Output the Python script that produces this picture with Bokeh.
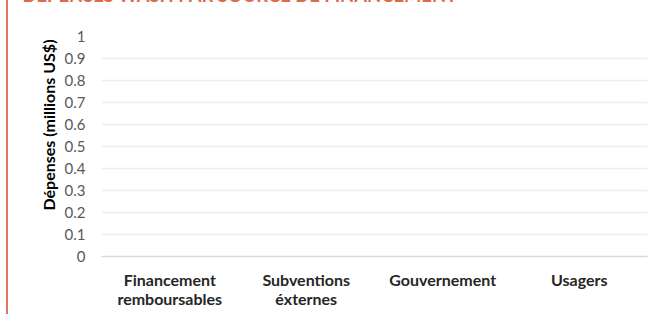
from bokeh.plotting import figure
from bokeh.models import FactorRange, Range1d, FixedTicker, Title
from bokeh.embed import file_html
from bokeh.resources import INLINE

# ---- data ----
categories = ["Financement\nremboursables", "Subventions\néxternes", "Gouvernement", "Usagers"]
values = [0, 0, 0, 0]
y_ticks = [0, 0.1, 0.2, 0.3, 0.4, 0.5, 0.6, 0.7, 0.8, 0.9, 1]
y_tick_labels = ["0", "0.1", "0.2", "0.3", "0.4", "0.5", "0.6", "0.7", "0.8", "0.9", "1"]
title_text = "DÉPENSES WASH PAR SOURCE DE FINANCEMENT"
y_title = "Dépenses (millions US$)"

ORANGE = "#E0694A"
FONT = "Lato"

p = figure(
    x_range=FactorRange(factors=categories, range_padding=0),
    y_range=Range1d(0, 1),
    width=657, height=368,
    output_backend="svg", toolbar_location=None,
    min_border_left=93, min_border_right=18,
    min_border_top=90, min_border_bottom=58,
)
p.styles = {"position": "relative", "top": "-54px", "left": "6px",
            "border-left": "2px solid #E0765A"}
p.outline_line_color = None
p.background_fill_color = "white"
p.border_fill_color = "white"

# chart title, mostly cut off at the top edge (as in the reference)
p.title.text = title_text
p.title.align = "left"
p.title.offset = -79
p.title.standoff = 62
p.title.text_font = FONT
p.title.text_font_style = "bold"
p.title.text_font_size = "18.4px"
p.title.text_color = ORANGE

p.vbar(x=categories, top=values, width=0.6, fill_color=ORANGE, line_color=None)

# y axis
p.yaxis.ticker = FixedTicker(ticks=y_ticks)
p.yaxis.major_label_overrides = {t: l for t, l in zip(y_ticks, y_tick_labels)}
p.yaxis.axis_line_color = None
p.yaxis.major_tick_line_color = None
p.yaxis.minor_tick_line_color = None
p.yaxis.major_tick_out = 0
p.yaxis.minor_tick_out = 0
p.yaxis.major_label_standoff = 16
p.yaxis.major_label_text_font = FONT
p.yaxis.major_label_text_font_size = "15px"
p.yaxis.major_label_text_color = "#595959"

# x axis
p.xaxis.axis_line_color = "#D9D9D9"
p.xaxis.axis_line_width = 1.5
p.xaxis.major_tick_line_color = None
p.xaxis.minor_tick_line_color = None
p.xaxis.major_tick_out = 0
p.xaxis.minor_tick_out = 0
p.xaxis.major_label_standoff = 13
p.xaxis.major_label_text_font = FONT
p.xaxis.major_label_text_font_style = "bold"
p.xaxis.major_label_text_font_size = "16px"
p.xaxis.major_label_text_color = "#262626"
p.xaxis.major_label_text_line_height = 1.0

p.xgrid.grid_line_color = None
p.ygrid.grid_line_color = "#EDEDED"
p.ygrid.grid_line_width = 1.5

# y axis title, starting above the frame bottom like the reference
p.add_layout(Title(text=y_title, align="left", offset=46, standoff=7,
                   text_font=FONT, text_font_style="bold", text_font_size="16px",
                   text_color="#000000"), "left")

open("out.html", "w").write(file_html(p, INLINE))
